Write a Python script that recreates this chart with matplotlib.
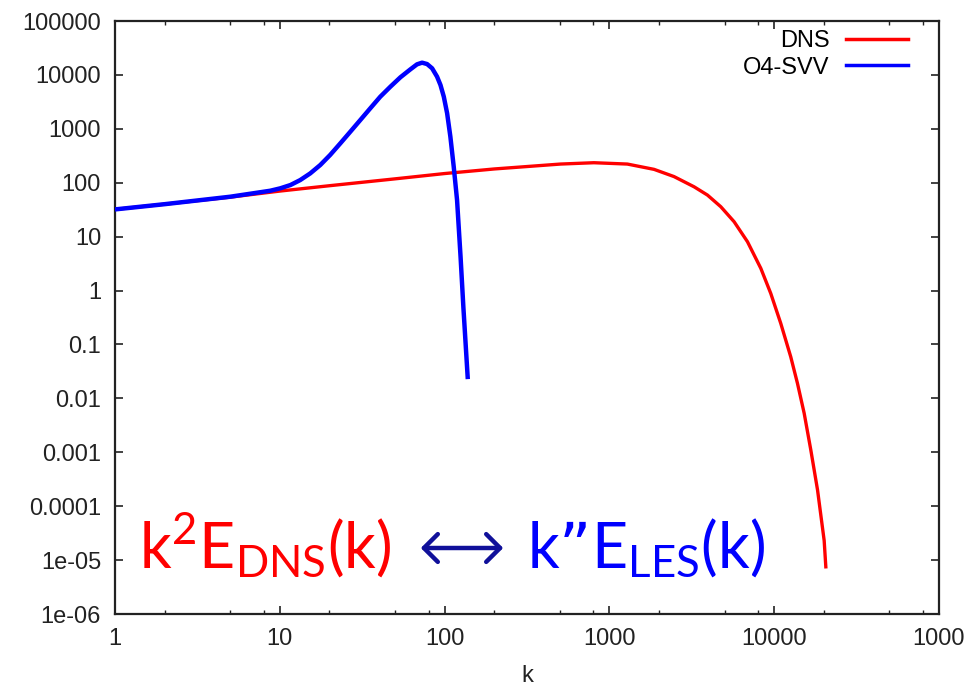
import numpy as np
import matplotlib
matplotlib.use("Agg")
import matplotlib.pyplot as plt
from matplotlib.ticker import FixedLocator, FixedFormatter, NullFormatter

# --- data ---
k_dns = [1, 2, 5, 10, 20, 50, 100, 200, 505, 805, 1285, 1866, 2467, 3266, 3936,
         4741, 5712, 6883, 8295, 9530, 10960, 12600, 13840, 15200, 16680, 18320,
         20100, 20570]
e_dns = [32, 40, 54, 70, 88, 118, 148, 180, 222, 235, 222, 177, 130, 84, 59,
         35.9, 18.9, 8.05, 2.58, 0.885, 0.246, 0.059, 0.019, 0.0053, 0.0011, 2e-4,
         2.3e-5, 7.5e-6]

k_les = [1, 2, 5, 8.74, 10.06, 11.6, 13.3, 15.3, 17.6, 20.2, 23.3, 26.8, 30.8,
         35.4, 40.7, 46.9, 53.9, 62.0, 68.0, 73.0, 78.3, 84, 90, 94.4, 98.9,
         103.6, 108.4, 113.6, 119, 125, 130, 138]
e_les = [32, 40, 55, 71, 78.7, 90.6, 112, 149, 213, 327, 538, 885, 1456,
         2400, 3940, 6050, 9020, 12680, 15700, 16870, 15900, 13250, 9280, 6500, 3940,
         1940, 714, 198, 47.8, 4.2, 0.49, 0.025]

x_ticks = [1, 10, 100, 1000, 10000, 100000]
x_labels = ["1", "10", "100", "1000", "10000", "1000"]
y_ticks = [1e5, 1e4, 1e3, 1e2, 1e1, 1, 1e-1, 1e-2, 1e-3, 1e-4, 1e-5, 1e-6]
y_labels = ["100000", "10000", "1000", "100", "10", "1", "0.1", "0.01",
            "0.001", "0.0001", "1e-05", "1e-06"]

plt.rcParams['font.family'] = ['Liberation Sans', 'DejaVu Sans']

fig = plt.figure(figsize=(9.77, 6.88), dpi=100)
ax = fig.add_axes([115 / 977, 1 - 614 / 688, 824 / 977, 593 / 688])

ax.plot(k_dns, e_dns, color='#ff0000', lw=2.4, label='DNS', zorder=2,
        solid_joinstyle='round')
ax.plot(k_les, e_les, color='#0000ff', lw=3.2, label='O4-SVV', zorder=3,
        solid_joinstyle='round')

ax.set_xscale('log')
ax.set_yscale('log')
ax.set_xlim(1, 1e5)
ax.set_ylim(1e-6, 1e5)

ax.xaxis.set_major_locator(FixedLocator(x_ticks))
ax.xaxis.set_major_formatter(FixedFormatter(x_labels))
minor = [d * s for d in [1, 10, 100, 1000, 10000] for s in (2, 5, 8)]
ax.xaxis.set_minor_locator(FixedLocator(minor))
ax.xaxis.set_minor_formatter(NullFormatter())
ax.yaxis.set_major_locator(FixedLocator(y_ticks))
ax.yaxis.set_major_formatter(FixedFormatter(y_labels))
ax.yaxis.set_minor_locator(FixedLocator([]))

ax.tick_params(which='both', direction='in', top=True, right=True,
               labelsize=17, colors='#222222')
ax.tick_params(which='major', length=6, width=1.2, pad=10)
ax.tick_params(which='minor', length=3, width=1.0)
for s in ax.spines.values():
    s.set_linewidth(1.6)
    s.set_color('#222222')

ax.set_xlabel('k', fontsize=17, labelpad=11, color='#222222')

leg = ax.legend(loc='upper right', bbox_to_anchor=(0.962, 0.985), frameon=False,
                markerfirst=False, fontsize=17, handlelength=2.6,
                handletextpad=0.7, labelspacing=0.2, borderaxespad=0, borderpad=0)
for line in leg.get_lines():
    line.set_linewidth(2.5)

# annotation under the curves
fig.text(139 / 977, 1 - 568 / 688, r'$\mathregular{k^2E_{DNS}(k)}$',
         color='#ff0000', fontsize=45, family='Lato', ha='left', va='baseline')
fig.text(527 / 977, 1 - 568 / 688, r'$\mathregular{k”E_{LES}(k)}$',
         color='#0000ff', fontsize=45, family='Lato', ha='left', va='baseline')
ax.annotate('', xy=(506 / 977, 1 - 548 / 688), xytext=(418 / 977, 1 - 548 / 688),
            xycoords='figure fraction', textcoords='figure fraction',
            arrowprops=dict(arrowstyle='<->,head_length=1.0,head_width=1.0',
                            color='#10109a', lw=3.2))

fig.savefig('out.png', dpi=100)
